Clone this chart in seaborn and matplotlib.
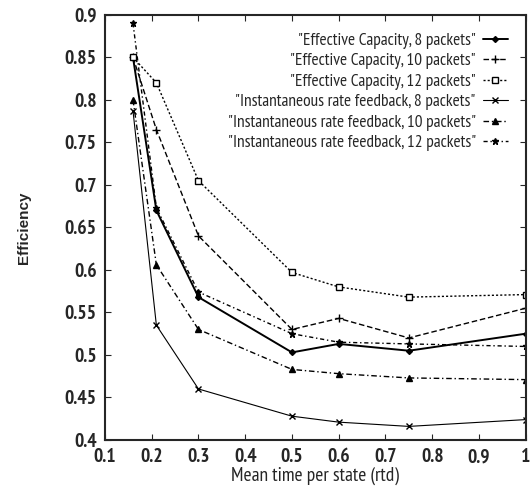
import seaborn as sns
import pandas as pd
import matplotlib.pyplot as plt
import numpy as np

sns.set_style("ticks")
plt.rcParams['font.family'] = ['PT Sans Narrow', 'Roboto Condensed', 'DejaVu Sans']

x = [0.16, 0.21, 0.3, 0.5, 0.6, 0.75, 1.0]
ec8 = [0.85, 0.67, 0.568, 0.503, 0.513, 0.505, 0.525]
ec10 = [0.85, 0.765, 0.64, 0.53, 0.543, 0.52, 0.555]
ec12 = [0.85, 0.82, 0.705, 0.597, 0.58, 0.568, 0.571]
irf8 = [0.787, 0.535, 0.46, 0.428, 0.421, 0.416, 0.424]
irf10 = [0.80, 0.606, 0.53, 0.483, 0.478, 0.473, 0.471]
irf12 = [0.89, 0.673, 0.574, 0.525, 0.515, 0.513, 0.51]

labels = ['"Effective Capacity, 8 packets"',
          '"Effective Capacity, 10 packets"',
          '"Effective Capacity, 12 packets"',
          '"Instantaneous rate feedback, 8 packets"',
          '"Instantaneous rate feedback, 10 packets"',
          '"Instantaneous rate feedback, 12 packets"']
series = [ec8, ec10, ec12, irf8, irf10, irf12]
markers = ['D', '+', 's', 'x', '^', '*']
styles = ['-', (0, (4, 2)), (0, (1.5, 1.5)), '-', (0, (4, 2, 1, 2)), (0, (3, 2, 1, 2))]
msizes = [3, 6, 4, 5, 4, 5]
widths = [1.4, 1.0, 1.0, 0.8, 1.0, 1.0]

fig = plt.figure(figsize=(5.3, 4.93), dpi=100)
ax = fig.add_axes([0.198, 0.1075, 0.794, 0.8625])

for lab, ys, m, ls, ms, lw in zip(labels, series, markers, styles, msizes, widths):
    df = pd.DataFrame({'x': x, 'y': ys})
    sns.lineplot(data=df, x='x', y='y', ax=ax, color='black', marker=m,
                 linestyle=ls, markersize=ms, linewidth=lw, label=lab,
                 markerfacecolor='white' if m == 's' else 'black',
                 markeredgecolor='black', markeredgewidth=1)

ax.set_xlim(0.1, 1.0)
ax.set_ylim(0.4, 0.9)
ax.set_xticks(np.arange(0.1, 1.01, 0.1))
ax.set_xticklabels(['0.1', '0.2', '0.3', '0.4', '0.5', '0.6', '0.7', '0.8', '0.9', '1'])
ax.set_yticks(np.arange(0.4, 0.901, 0.05))
ax.set_yticklabels(['0.4', '0.45', '0.5', '0.55', '0.6', '0.65', '0.7', '0.75', '0.8', '0.85', '0.9'])
ax.tick_params(direction='in', top=True, right=True, labelsize=14, length=4, pad=6)
for t in ax.get_xticklabels() + ax.get_yticklabels():
    t.set_fontweight('bold')
for s in ax.spines.values():
    s.set_linewidth(1.5)
    s.set_visible(True)

ax.set_xlabel('Mean time per state (rtd)', fontsize=14, labelpad=0)
ax.set_ylabel('Efficiency', fontsize=11, fontweight='bold', labelpad=24,
              family=['Liberation Sans', 'DejaVu Sans'])

ax.legend(loc='upper right', frameon=False, markerfirst=False, fontsize=12.5,
          handlelength=1.45, labelspacing=0.25, borderaxespad=0.63, handletextpad=0.4)

plt.savefig('out.png', dpi=100)
